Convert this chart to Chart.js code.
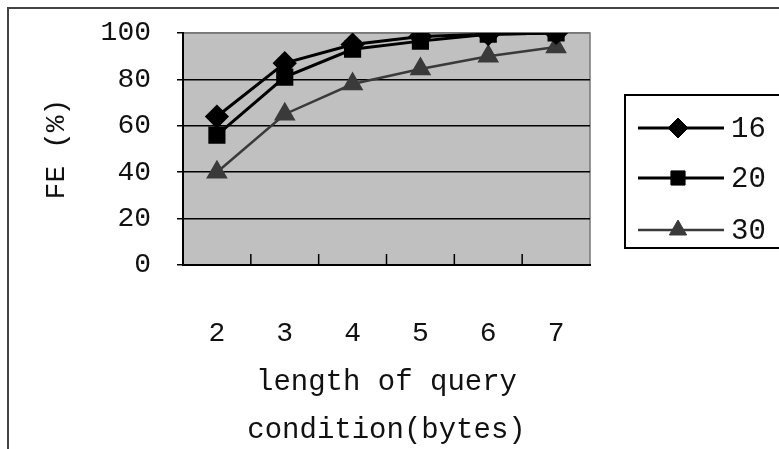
<!DOCTYPE html>
<html>
<head>
<meta charset="utf-8">
<script src="https://cdn.jsdelivr.net/npm/chart.js@4/dist/chart.umd.min.js"></script>
<style>
  html, body { margin: 0; padding: 0; background: #fff; overflow: hidden; }
  #wrap { position: relative; width: 779px; height: 449px; }
  #frame { position: absolute; left: 7px; top: 7px; width: 800px; height: 500px;
           border-left: 2px solid #444; border-top: 2px solid #444; }
  canvas { position: absolute; left: 0; top: 0; }
</style>
</head>
<body>
<div id="wrap">
  <div id="frame"></div>
  <canvas id="fe-chart" width="779" height="449"></canvas>
</div>
<script>
const lengths = ['2', '3', '4', '5', '6', '7']
const fe16 = [64, 87, 95, 98.5, 99.5, 100]
const fe20 = [56, 81, 93, 96.5, 99.5, 100]
const fe30 = [40, 65, 78, 84.5, 90, 94]
const yTicks = [0, 20, 40, 60, 80, 100]

const MONO = '"Liberation Mono", "DejaVu Sans Mono", monospace'

// grey plot background
const plotBg = {
  id: 'plotBg',
  beforeDraw (chart) {
    const { ctx, chartArea: a } = chart
    ctx.save()
    ctx.fillStyle = '#c0c0c0'
    ctx.fillRect(a.left, a.top, a.right - a.left, a.bottom - a.top)
    ctx.strokeStyle = '#777'
    ctx.lineWidth = 1.5
    ctx.beginPath()
    ctx.moveTo(a.left, a.top)
    ctx.lineTo(a.right, a.top)
    ctx.lineTo(a.right, a.bottom)
    ctx.stroke()
    ctx.restore()
  }
}

// category ticks pointing up into the plot
const innerTicks = {
  id: 'innerTicks',
  afterDatasetsDraw (chart) {
    const { ctx, chartArea: a, scales: { x } } = chart
    ctx.save()
    ctx.strokeStyle = '#000'
    ctx.lineWidth = 1.5
    for (let i = 1; i < lengths.length; i++) {
      const px = (x.getPixelForValue(i - 1) + x.getPixelForValue(i)) / 2
      ctx.beginPath()
      ctx.moveTo(px, a.bottom)
      ctx.lineTo(px, a.bottom - 11)
      ctx.stroke()
    }
    ctx.restore()
  }
}

// boxed legend with line-through-marker samples
const boxLegend = {
  id: 'boxLegend',
  afterDraw (chart) {
    const { ctx } = chart
    const box = { left: 625, top: 95, right: 790, bottom: 248 }
    const rows = [128, 178, 230]
    ctx.save()
    ctx.strokeStyle = '#000'
    ctx.lineWidth = 2
    ctx.strokeRect(box.left, box.top, box.right - box.left, box.bottom - box.top)
    chart.data.datasets.forEach((ds, i) => {
      const y = rows[i]
      ctx.strokeStyle = ds.borderColor
      ctx.lineWidth = ds.borderWidth
      ctx.beginPath()
      ctx.moveTo(638, y)
      ctx.lineTo(724, y)
      ctx.stroke()
      ctx.fillStyle = ds.pointBackgroundColor
      ctx.strokeStyle = ds.pointBorderColor
      ctx.lineWidth = 1
      Chart.helpers.drawPoint(ctx, { pointStyle: ds.pointStyle, radius: ds.pointRadius, rotation: 0, borderWidth: 1 }, 678, y)
      ctx.fillStyle = '#111'
      ctx.font = '29px ' + MONO
      ctx.textBaseline = 'middle'
      ctx.textAlign = 'left'
      ctx.fillText(ds.label, 731, y + 1)
    })
    ctx.restore()
  }
}

new Chart(document.getElementById('fe-chart').getContext('2d'), {
  type: 'line',
  data: {
    labels: lengths,
    datasets: [
      { label: '16', data: fe16, borderColor: '#000', borderWidth: 3,
        pointStyle: 'rectRot', pointRadius: 10, pointBackgroundColor: '#000', pointBorderColor: '#000' },
      { label: '20', data: fe20, borderColor: '#000', borderWidth: 3,
        pointStyle: 'rect', pointRadius: 10, pointBackgroundColor: '#000', pointBorderColor: '#000' },
      { label: '30', data: fe30, borderColor: '#3a3a3a', borderWidth: 2.5,
        pointStyle: 'triangle', pointRadius: 10, pointBackgroundColor: '#3a3a3a', pointBorderColor: '#3a3a3a' }
    ]
  },
  options: {
    responsive: false,
    animation: false,
    layout: { padding: { top: 33, right: 189, left: 0, bottom: 0 } },
    plugins: {
      legend: { display: false },
      tooltip: { enabled: false }
    },
    elements: { line: { tension: 0 } },
    scales: {
      x: {
        offset: true,
        grid: { display: false, offset: true },
        border: { color: '#000', width: 2 },
        ticks: { color: '#111', font: { family: MONO, size: 28 }, padding: 44, maxRotation: 0 },
        title: {
          display: true,
          text: ['length of query', 'condition(bytes)'],
          color: '#111',
          font: { family: MONO, size: 29, lineHeight: 1.65 },
          padding: { top: 0, bottom: -5 }
        },
        afterFit (scale) {
          scale.height = 184
          scale.paddingLeft = 0
          scale.paddingRight = 0
        }
      },
      y: {
        min: 0,
        max: 100,
        afterBuildTicks (scale) { scale.ticks = yTicks.map(v => ({ value: v })) },
        grid: {
          color: ctx => (ctx.tick && ctx.tick.value === 100 ? '#777' : '#000'),
          lineWidth: 1.5,
          tickLength: 6,
          tickColor: '#000'
        },
        border: { color: '#000', width: 2 },
        ticks: { color: '#111', font: { family: MONO, size: 28 }, padding: 26 },
        title: {
          display: true,
          text: 'FE (%)',
          color: '#111',
          font: { family: MONO, size: 28, lineHeight: 1.2 },
          padding: { top: 40, bottom: 0 }
        },
        afterFit (scale) {
          scale.width = 183
          scale.paddingTop = 0
          scale.paddingBottom = 0
        }
      }
    }
  },
  plugins: [plotBg, innerTicks, boxLegend]
})
</script>
</body>
</html>
